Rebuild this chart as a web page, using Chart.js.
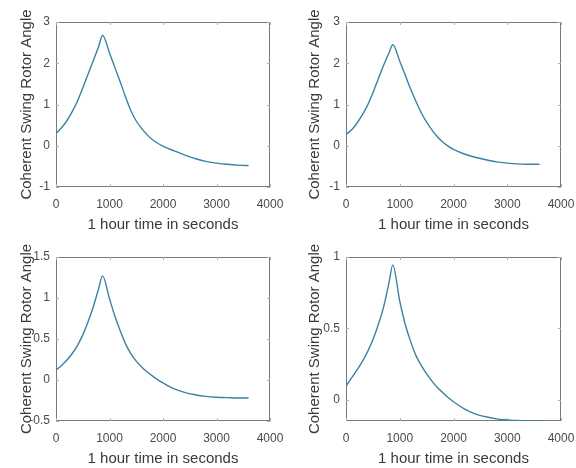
<!DOCTYPE html>
<html>
<head>
<meta charset="utf-8">
<script src="https://cdn.jsdelivr.net/npm/chart.js@4.4.1/dist/chart.umd.min.js"></script>
<style>
  body { margin: 0; background: #fff; width: 576px; height: 468px; position: relative; overflow: hidden; }
  canvas { position: absolute; }
</style>
</head>
<body>
<canvas id="p1" width="288" height="234" style="left:0;top:0"></canvas>
<canvas id="p2" width="288" height="234" style="left:288px;top:0"></canvas>
<canvas id="p3" width="288" height="234" style="left:0;top:234px"></canvas>
<canvas id="p4" width="288" height="234" style="left:288px;top:234px"></canvas>
<script>
// time axis (seconds) shared by all four panels
const timeSec = [0, 100, 200, 300, 400, 500, 600, 700, 800, 870, 1000, 1100, 1200, 1300, 1400,
  1500, 1600, 1700, 1800, 1900, 2000, 2200, 2400, 2600, 2800, 3000, 3200, 3400, 3600];

// rotor angle
const angleTopLeft = [0.30, 0.43, 0.60, 0.82, 1.08, 1.40, 1.74, 2.07, 2.42, 2.68, 2.25, 1.90, 1.55, 1.18, 0.85,
  0.60, 0.42, 0.27, 0.15, 0.06, -0.01, -0.12, -0.22, -0.31, -0.38, -0.42, -0.45, -0.47, -0.48];
const angleTopRight = [0.27, 0.38, 0.54, 0.74, 0.98, 1.28, 1.62, 1.95, 2.25, 2.45, 2.05, 1.72, 1.38, 1.08, 0.80,
  0.57, 0.38, 0.22, 0.09, -0.01, -0.09, -0.20, -0.28, -0.34, -0.39, -0.42, -0.44, -0.45, -0.45];
const angleBottomLeft = [0.12, 0.175, 0.24, 0.32, 0.42, 0.55, 0.71, 0.90, 1.12, 1.27, 0.99, 0.78, 0.60, 0.44, 0.32,
  0.23, 0.16, 0.10, 0.05, 0.005, -0.035, -0.105, -0.15, -0.18, -0.20, -0.21, -0.215, -0.22, -0.22];
const angleBottomRight = [0.095, 0.15, 0.205, 0.265, 0.335, 0.42, 0.525, 0.65, 0.82, 0.945, 0.69, 0.53, 0.41, 0.31, 0.24,
  0.18, 0.13, 0.085, 0.05, 0.015, -0.015, -0.065, -0.10, -0.12, -0.135, -0.142, -0.147, -0.15, -0.15];

// tick labels
const xTicks = [0, 1000, 2000, 3000, 4000];
const yTicksTopLeft = [-1, 0, 1, 2, 3];
const yTicksTopRight = [-1, 0, 1, 2, 3];
const yTicksBottomLeft = [-0.5, 0, 0.5, 1, 1.5];
const yTicksBottomRight = [0, 0.5, 1];

const xTitle = "1 hour time in seconds";
const yTitle = "Coherent Swing Rotor Angle";

// box around the axes with small inward ticks, like the original figure
const boxPlugin = {
  id: "box",
  beforeDatasetsDraw(chart) {
    const { ctx, chartArea: a, scales } = chart;
    ctx.save();
    ctx.strokeStyle = "#7a7a7a";
    ctx.lineWidth = 1;
    ctx.strokeRect(a.left + 0.5, a.top + 0.5, a.width - 1, a.height - 1);
    ctx.strokeStyle = "#b0b0b0";
    ctx.beginPath();
    scales.x.ticks.forEach(t => {
      const px = Math.round(scales.x.getPixelForValue(t.value)) + 0.5;
      ctx.moveTo(px, a.bottom); ctx.lineTo(px, a.bottom - 3);
      ctx.moveTo(px, a.top); ctx.lineTo(px, a.top + 3);
    });
    scales.y.ticks.forEach(t => {
      const py = Math.round(scales.y.getPixelForValue(t.value)) + 0.5;
      ctx.moveTo(a.left, py); ctx.lineTo(a.left + 3, py);
      ctx.moveTo(a.right, py); ctx.lineTo(a.right - 3, py);
    });
    ctx.stroke();
    ctx.restore();
  }
};

function drawPanel(id, values, yMin, yMax, yTicks, area) {
  const ctx = document.getElementById(id).getContext("2d");
  new Chart(ctx, {
    type: "line",
    data: {
      datasets: [{
        data: timeSec.map((t, i) => ({ x: t, y: values[i] })),
        borderColor: "#3a82a3",
        borderWidth: 1.4,
        pointRadius: 0,
        cubicInterpolationMode: "monotone",
        fill: false
      }]
    },
    options: {
      responsive: false,
      animation: false,
      layout: { padding: { top: area.top, right: 288 - area.right, bottom: 0, left: 0 } },
      plugins: { legend: { display: false }, tooltip: { enabled: false } },
      scales: {
        x: {
          type: "linear",
          min: 0,
          max: 4000,
          afterBuildTicks: s => { s.ticks = xTicks.map(v => ({ value: v })); },
          afterFit: s => { s.height = 234 - area.bottom; s.paddingLeft = 0; s.paddingRight = 0; },
          grid: { display: false, drawTicks: false },
          border: { display: false },
          ticks: {
            color: "#4a4a4a",
            padding: 10,
            maxRotation: 0,
            font: { family: "Liberation Sans", size: 12 },
            callback: v => String(v)
          },
          title: {
            display: true,
            text: xTitle,
            color: "#3a3a3a",
            padding: { top: 0, bottom: 0 },
            font: { family: "Liberation Sans", size: 15 }
          }
        },
        y: {
          min: yMin,
          max: yMax,
          afterBuildTicks: s => { s.ticks = yTicks.map(v => ({ value: v })); },
          afterFit: s => { s.width = area.left; s.paddingTop = 0; s.paddingBottom = 0; },
          grid: { display: false, drawTicks: false },
          border: { display: false },
          ticks: {
            color: "#4a4a4a",
            padding: 6,
            font: { family: "Liberation Sans", size: 12 },
            callback: v => String(v)
          },
          title: {
            display: true,
            text: yTitle,
            color: "#3a3a3a",
            padding: { top: 18, bottom: 0 },
            font: { family: "Liberation Sans", size: 15 }
          }
        }
      }
    },
    plugins: [boxPlugin]
  });
}

drawPanel("p1", angleTopLeft, -1, 3, yTicksTopLeft, { left: 56, top: 22, right: 270, bottom: 187 });
drawPanel("p2", angleTopRight, -1, 3, yTicksTopRight, { left: 58, top: 22, right: 273, bottom: 187 });
drawPanel("p3", angleBottomLeft, -0.5, 1.5, yTicksBottomLeft, { left: 56, top: 23, right: 270, bottom: 187 });
drawPanel("p4", angleBottomRight, -0.15, 1, yTicksBottomRight, { left: 58, top: 23, right: 273, bottom: 187 });
</script>
</body>
</html>
